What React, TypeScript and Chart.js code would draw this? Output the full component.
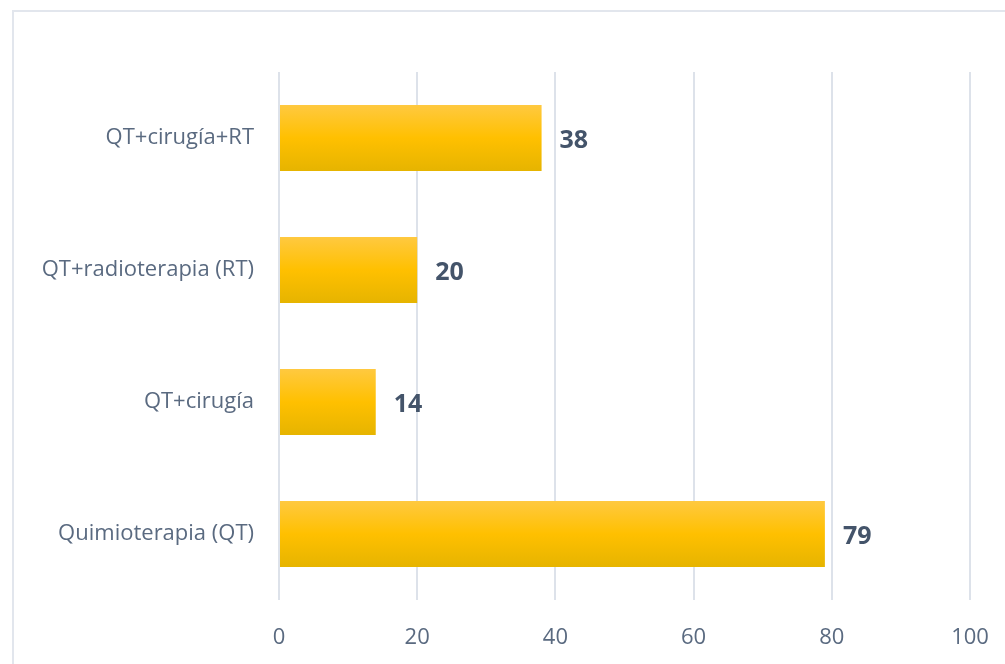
import React, { useEffect, useRef } from "react";
import { Chart, registerables } from "chart.js";

Chart.register(...registerables);

const categories = ["QT+cirugía+RT", "QT+radioterapia (RT)", "QT+cirugía", "Quimioterapia (QT)"];
const values = [38, 20, 14, 79];
const xTicks = [0, 20, 40, 60, 80, 100];

const FONT = "'Open Sans', sans-serif";

export default function App() {
  const ref = useRef<HTMLCanvasElement | null>(null);

  useEffect(() => {
    if (!ref.current) return;

    const framePlugin = {
      id: "frame",
      beforeDraw(chart: any) {
        const c = chart.ctx;
        c.save();
        c.fillStyle = "#ffffff";
        c.fillRect(0, 0, chart.width, chart.height);
        c.strokeStyle = "#e2e6ed";
        c.lineWidth = 2;
        c.strokeRect(13, 11, chart.width + 20, chart.height + 20);
        c.restore();
      },
    };

    const labelPlugin = {
      id: "valueLabels",
      afterDatasetsDraw(chart: any) {
        const c = chart.ctx;
        const meta = chart.getDatasetMeta(0);
        c.save();
        c.font = `bold 25px ${FONT}`;
        c.fillStyle = "#44546a";
        c.textAlign = "left";
        c.textBaseline = "middle";
        meta.data.forEach((bar: any, i: number) => {
          c.fillText(String(values[i]), bar.x + 18, bar.y + 3);
        });
        c.restore();
      },
    };

    const chart = new Chart(ref.current, {
      type: "bar",
      data: {
        labels: categories,
        datasets: [
          {
            data: values,
            barPercentage: 0.5,
            categoryPercentage: 1,
            borderWidth: 0,
            backgroundColor: (ctx: any) => {
              const ch = ctx.chart;
              if (!ch.chartArea || !ch.scales.y) return "#ffc000";
              const y = ch.scales.y.getPixelForValue(ctx.dataIndex);
              const band = (ch.chartArea.bottom - ch.chartArea.top) / categories.length;
              const half = band * 0.25;
              const g = ch.ctx.createLinearGradient(0, y - half, 0, y + half);
              g.addColorStop(0, "#ffc940");
              g.addColorStop(0.5, "#ffc000");
              g.addColorStop(1, "#e6b400");
              return g;
            },
          },
        ],
      },
      options: {
        indexAxis: "y",
        animation: false,
        responsive: false,
        maintainAspectRatio: false,
        layout: { padding: { top: 72, right: 35, left: 0, bottom: 0 } },
        plugins: { legend: { display: false }, tooltip: { enabled: false } },
        scales: {
          x: {
            min: 0,
            max: 100,
            afterBuildTicks: (scale: any) => {
              scale.ticks = xTicks.map((v) => ({ value: v }));
            },
            afterFit: (scale: any) => {
              scale.height = 64;
              scale.paddingLeft = 0;
              scale.paddingRight = 0;
            },
            grid: { color: "#dde2ea", lineWidth: 2, drawTicks: false },
            border: { display: false },
            ticks: {
              padding: 25,
              color: "#5a6a80",
              font: { family: FONT, size: 22 },
            },
          },
          y: {
            afterFit: (scale: any) => {
              scale.width = 279;
              scale.paddingTop = 0;
              scale.paddingBottom = 0;
            },
            grid: { display: false, drawTicks: false },
            border: { display: false },
            ticks: {
              padding: 25,
              color: "#5a6a80",
              font: { family: FONT, size: 22 },
            },
          },
        },
      },
      plugins: [framePlugin, labelPlugin],
    });

    return () => chart.destroy();
  }, []);

  return (
    <div style={{ position: "absolute", left: 0, top: 0, width: 1005, height: 664 }}>
      <canvas ref={ref} width={1005} height={664} style={{ display: "block" }} />
    </div>
  );
}
